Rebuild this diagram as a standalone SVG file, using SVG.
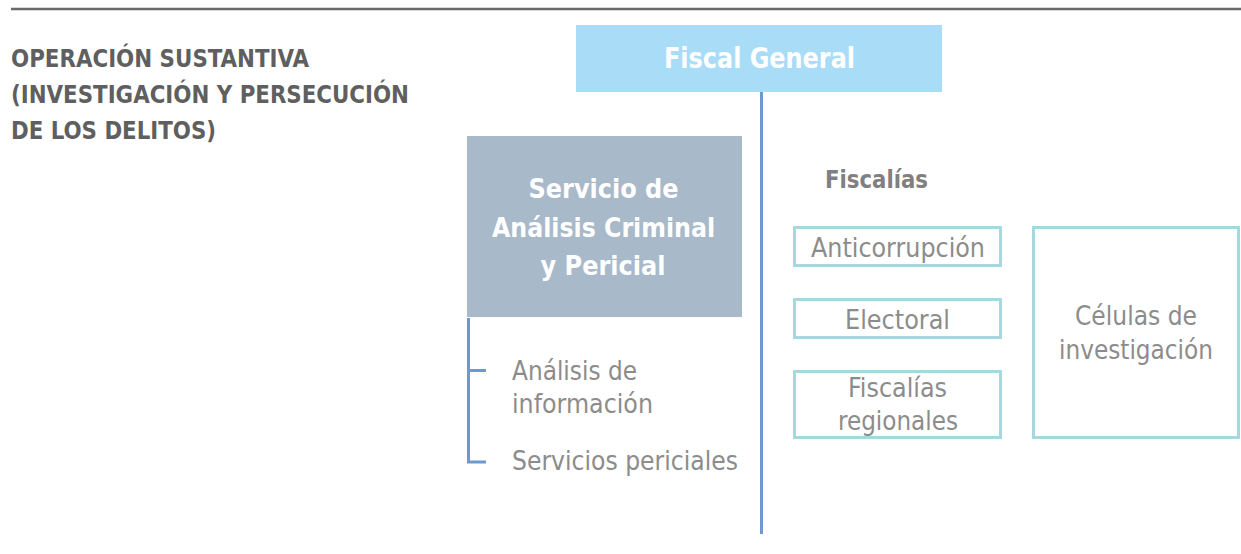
<svg xmlns="http://www.w3.org/2000/svg" width="1241" height="554" viewBox="0 0 1241 554">
<style>
text{font-family:"DejaVu Sans","Liberation Sans",sans-serif;font-stretch:condensed}
.head{font-size:24px;font-weight:bold;fill:#5f5f5f}
.white{font-size:28px;font-weight:bold;fill:#ffffff;text-anchor:middle}
.body{font-size:26px;fill:#8c8c8c}
.mid{text-anchor:middle}
.sub{font-size:24px;font-weight:bold;fill:#808080}
.box{fill:#ffffff;stroke:#a6d8e0;stroke-width:3}
.ln{stroke:#6a9ad0;stroke-width:3;fill:none}
</style>
<rect width="1241" height="554" fill="#ffffff"/>
<line x1="11" y1="9" x2="1241" y2="9" stroke="#6a6a6a" stroke-width="2.5"/>
<g id="title">
<text class="head" x="11" y="67" textLength="298" lengthAdjust="spacingAndGlyphs">OPERACIÓN SUSTANTIVA</text>
<text class="head" x="11" y="103" textLength="398" lengthAdjust="spacingAndGlyphs">(INVESTIGACIÓN Y PERSECUCIÓN</text>
<text class="head" x="11" y="139" textLength="205" lengthAdjust="spacingAndGlyphs">DE LOS DELITOS)</text>
</g>
<g id="connectors">
<line class="ln" x1="761.5" y1="92" x2="761.5" y2="534"/>
<polyline class="ln" points="486,370.5 468.5,370.5"/>
<polyline class="ln" points="468.5,318 468.5,462 486,462"/>
</g>
<g id="fiscal-general">
<rect x="576" y="25" width="366" height="67" fill="#a9dcf7"/>
<text class="white" x="759.5" y="68" textLength="191" lengthAdjust="spacingAndGlyphs">Fiscal General</text>
</g>
<g id="servicio">
<rect x="467" y="136" width="275" height="181" fill="#a8b9ca"/>
<text class="white" style="font-size:27px" x="603.5" y="198" textLength="150" lengthAdjust="spacingAndGlyphs">Servicio de</text>
<text class="white" style="font-size:27px" x="603.5" y="237" textLength="223" lengthAdjust="spacingAndGlyphs">Análisis Criminal</text>
<text class="white" style="font-size:27px" x="603" y="275" textLength="125" lengthAdjust="spacingAndGlyphs">y Pericial</text>
</g>
<g id="analisis">
<text class="body" x="512" y="380" textLength="125" lengthAdjust="spacingAndGlyphs">Análisis de</text>
<text class="body" x="512" y="413" textLength="141" lengthAdjust="spacingAndGlyphs">información</text>
</g>
<g id="servicios-periciales">
<text class="body" x="512" y="470" textLength="226" lengthAdjust="spacingAndGlyphs">Servicios periciales</text>
</g>
<g id="fiscalias-label">
<text class="sub" x="825" y="188" textLength="103" lengthAdjust="spacingAndGlyphs">Fiscalías</text>
</g>
<g id="anticorrupcion">
<rect class="box" x="794.5" y="227.5" width="206" height="38"/>
<text class="body mid" x="898" y="257" textLength="174" lengthAdjust="spacingAndGlyphs">Anticorrupción</text>
</g>
<g id="electoral">
<rect class="box" x="794.5" y="299.5" width="206" height="38"/>
<text class="body mid" x="897.5" y="329" textLength="105" lengthAdjust="spacingAndGlyphs">Electoral</text>
</g>
<g id="regionales">
<rect class="box" x="794.5" y="371.5" width="206" height="66"/>
<text class="body mid" x="897.5" y="397" textLength="99" lengthAdjust="spacingAndGlyphs">Fiscalías</text>
<text class="body mid" x="898" y="430" textLength="120" lengthAdjust="spacingAndGlyphs">regionales</text>
</g>
<g id="celulas">
<rect class="box" x="1033.5" y="227.5" width="205" height="210"/>
<text class="body mid" x="1136" y="325" textLength="122" lengthAdjust="spacingAndGlyphs">Células de</text>
<text class="body mid" x="1136" y="359" textLength="154" lengthAdjust="spacingAndGlyphs">investigación</text>
</g>
</svg>
